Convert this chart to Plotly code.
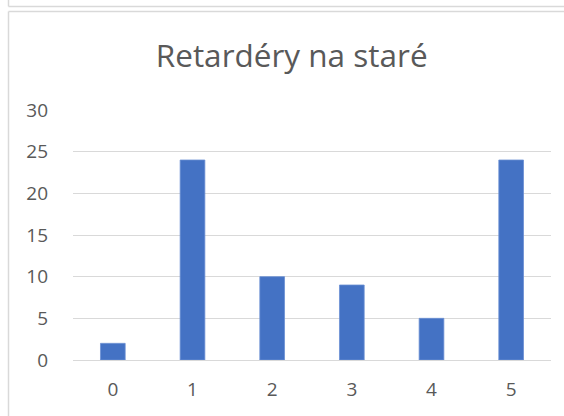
import plotly.graph_objects as go

categories = ["0", "1", "2", "3", "4", "5"]
values = [2, 24, 10, 9, 5, 24]
y_ticks = [0, 5, 10, 15, 20, 25, 30]
title_text = "Retardéry na staré"

W, H = 564, 416
L, R, T, B = 73, 13, 110, 56
pw, ph = W - L - R, H - T - B

def px(x):
    return (x - L) / pw

def py(y):
    return 1 - (y - T) / ph

fig = go.Figure(go.Bar(
    x=categories, y=values,
    marker=dict(color="#4472C4", line=dict(color="#6b8fd3", width=0.8)),
    width=0.31,
))

border = "#d9d9d9"

def hline(x0, x1, y):
    return dict(type="line", xref="paper", yref="paper", x0=px(x0), x1=px(x1), y0=py(y), y1=py(y),
                line=dict(color=border, width=1.5))

def vline(x, y0, y1):
    return dict(type="line", xref="paper", yref="paper", x0=px(x), x1=px(x), y0=py(y0), y1=py(y1),
                line=dict(color=border, width=1.5))

shapes = [
    vline(8.5, 0, 6.5),
    hline(8.5, W, 6.5),
    vline(8.5, 11.5, H),
    hline(8.5, W, 11.5),
]

fig.update_layout(
    width=W, height=H,
    margin=dict(l=L, r=R, t=T, b=B, pad=0),
    paper_bgcolor="white", plot_bgcolor="white",
    font=dict(family="Open Sans", color="#595959", size=19),
    title=dict(text=title_text, xref="container", x=291.7 / W, xanchor="center",
               yref="container", y=1 - 56 / H, yanchor="middle",
               font=dict(family="Open Sans", size=31.5, color="#595959")),
    showlegend=False,
    shapes=shapes,
    xaxis=dict(showgrid=False, showline=False, zeroline=False, ticks="",
               tickfont=dict(size=19, color="#595959"), ticklabelstandoff=16),
    yaxis=dict(range=[0, 30], tickvals=y_ticks, showgrid=True, gridcolor="#d9d9d9", gridwidth=1.3,
               zeroline=True, zerolinecolor="#d9d9d9", zerolinewidth=1.3, showline=False, ticks="",
               tickfont=dict(size=19, color="#595959"), ticklabelstandoff=24),
)

fig.write_html(
    "out.html",
    config={"displayModeBar": False},
    post_script=(
        "document.body.style.margin='0px';"
        "document.body.style.overflow='hidden';"
        "document.documentElement.style.overflow='hidden';"
    ),
)
